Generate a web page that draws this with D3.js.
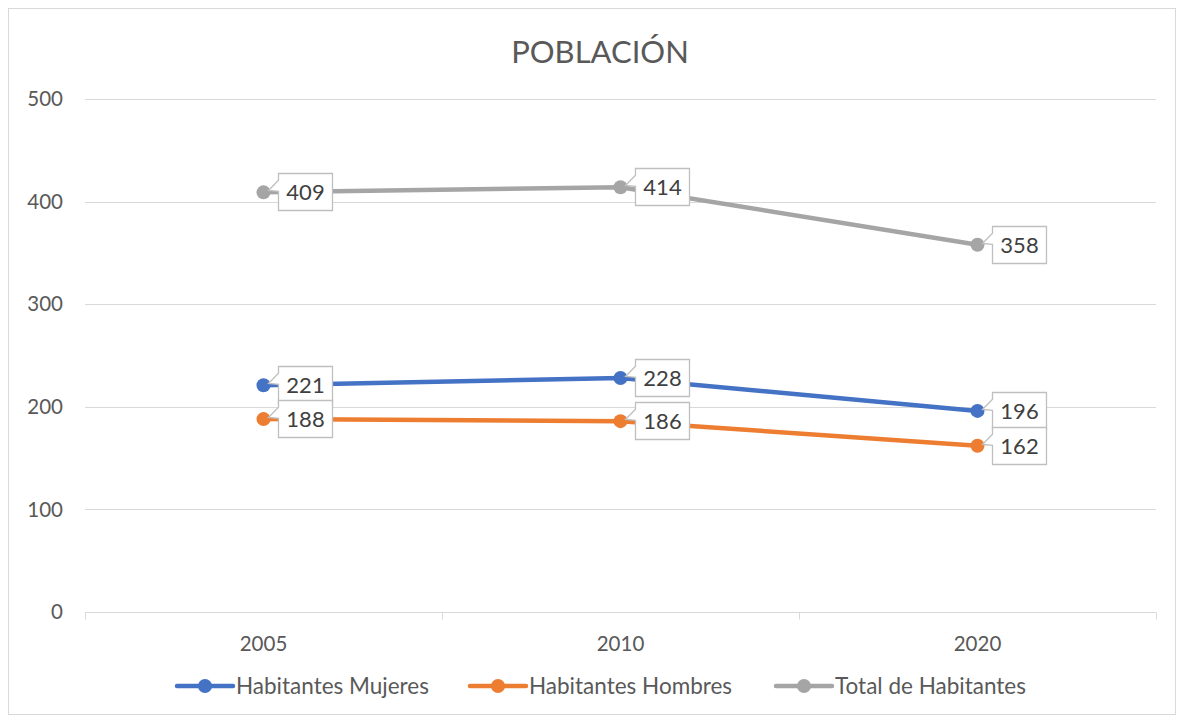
<!DOCTYPE html>
<html>
<head>
<meta charset="utf-8">
<script src="https://cdn.jsdelivr.net/npm/d3@7"></script>
<style>
  body { margin: 0; background: #fff; }
  text { font-family: Lato, "Open Sans", sans-serif; }
</style>
</head>
<body>
<div id="chart"></div>
<script>
var years = ["2005", "2010", "2020"];
var mujeres = [221, 228, 196];
var hombres = [188, 186, 162];
var total = [409, 414, 358];
var yTicks = [0, 100, 200, 300, 400, 500];
var seriesNames = ["Habitantes Mujeres", "Habitantes Hombres", "Total de Habitantes"];
var seriesColors = ["#4472C4", "#ED7D31", "#A5A5A5"];

var width = 1184, height = 719;
var plot = { left: 85, right: 1156, top: 99, bottom: 612 };

var svg = d3.select("#chart").append("svg")
    .attr("width", width)
    .attr("height", height);

svg.append("rect")
    .attr("x", 8.5).attr("y", 8.5)
    .attr("width", 1167).attr("height", 706)
    .style("fill", "#fff")
    .style("stroke", "#d9d9d9")
    .style("stroke-width", 1);

svg.append("text")
    .attr("x", 600).attr("y", 63)
    .attr("text-anchor", "middle")
    .style("font-size", "31px")
    .style("fill", "#595959")
    .text("POBLACIÓN");

var x = d3.scaleBand()
    .domain(years)
    .range([plot.left, plot.right]);

var y = d3.scaleLinear()
    .domain([0, 500])
    .range([plot.bottom, plot.top]);

// gridlines
svg.append("g").selectAll("line")
    .data(yTicks.filter(function (d) { return d > 0; }))
    .enter().append("line")
    .attr("x1", plot.left).attr("x2", plot.right)
    .attr("y1", function (d) { return Math.round(y(d)) + 0.5; })
    .attr("y2", function (d) { return Math.round(y(d)) + 0.5; })
    .style("stroke", "#d9d9d9")
    .style("stroke-width", 1);

// y labels
svg.append("g").selectAll("text")
    .data(yTicks)
    .enter().append("text")
    .attr("x", 63)
    .attr("y", function (d) { return y(d); })
    .attr("dy", "0.35em")
    .attr("text-anchor", "end")
    .style("font-size", "20.5px")
    .style("fill", "#595959")
    .text(function (d) { return d; });

// x axis
var xAxis = svg.append("g")
    .attr("transform", "translate(0," + (Math.round(y(0)) + 0.5) + ")");
xAxis.append("line")
    .attr("x1", plot.left).attr("x2", plot.right)
    .style("stroke", "#d9d9d9").style("stroke-width", 1);
var bounds = years.map(function (d) { return x(d); }).concat([plot.right]);
xAxis.selectAll(".tick")
    .data(bounds)
    .enter().append("line")
    .attr("x1", function (d) { return Math.round(d) + 0.5; })
    .attr("x2", function (d) { return Math.round(d) + 0.5; })
    .attr("y1", 0).attr("y2", 7)
    .style("stroke", "#d9d9d9").style("stroke-width", 1);
xAxis.selectAll(".xlabel")
    .data(years)
    .enter().append("text")
    .attr("x", function (d) { return x(d) + x.bandwidth() / 2; })
    .attr("y", 38)
    .attr("text-anchor", "middle")
    .style("font-size", "20.5px")
    .style("fill", "#595959")
    .text(function (d) { return d; });

var cx = function (d, i) { return x(years[i]) + x.bandwidth() / 2; };

var allSeries = [mujeres, hombres, total];

var line = d3.line()
    .x(function (d, i) { return cx(d, i); })
    .y(function (d) { return y(d); });

allSeries.forEach(function (vals, s) {
    svg.append("path")
        .datum(vals)
        .attr("d", line)
        .style("fill", "none")
        .style("stroke", seriesColors[s])
        .style("stroke-width", 4.5)
        .style("stroke-linejoin", "round")
        .style("stroke-linecap", "round");
    svg.append("g").selectAll("circle")
        .data(vals)
        .enter().append("circle")
        .attr("cx", cx)
        .attr("cy", function (d) { return y(d); })
        .attr("r", 7)
        .style("fill", seriesColors[s]);
});

// callout labels
var boxW = 54, boxH = 37;
allSeries.forEach(function (vals, s) {
    var g = svg.append("g").selectAll("g")
        .data(vals)
        .enter().append("g")
        .attr("transform", function (d, i) {
            return "translate(" + (Math.round(cx(d, i)) + 14.5) + "," + (Math.round(y(d)) - 18.5) + ")";
        });
    g.append("path")
        .attr("d", "M0,0 L" + boxW + ",0 L" + boxW + "," + boxH + " L0," + boxH +
            " L0," + (boxH * 0.48) + " L-10,17 L0," + (boxH * 0.18) + " Z")
        .style("fill", "#fff")
        .style("stroke", "#bfbfbf")
        .style("stroke-width", 1.3);
    g.append("text")
        .attr("x", boxW / 2)
        .attr("y", boxH / 2)
        .attr("dy", "0.36em")
        .attr("text-anchor", "middle")
        .style("font-size", "22px")
        .style("fill", "#404040")
        .text(function (d) { return d; });
});

// legend
var legendX = [177, 470, 776];
var legend = svg.append("g").selectAll("g")
    .data(seriesNames)
    .enter().append("g")
    .attr("transform", function (d, i) { return "translate(" + legendX[i] + ",686)"; });
legend.append("line")
    .attr("x1", 0).attr("x2", 56)
    .style("stroke", function (d, i) { return seriesColors[i]; })
    .style("stroke-width", 4.5)
    .style("stroke-linecap", "round");
legend.append("circle")
    .attr("cx", 28).attr("r", 7)
    .style("fill", function (d, i) { return seriesColors[i]; });
legend.append("text")
    .attr("x", 59)
    .attr("dy", "0.35em")
    .style("font-size", "22.5px")
    .style("fill", "#595959")
    .text(function (d) { return d; });
</script>
</body>
</html>
